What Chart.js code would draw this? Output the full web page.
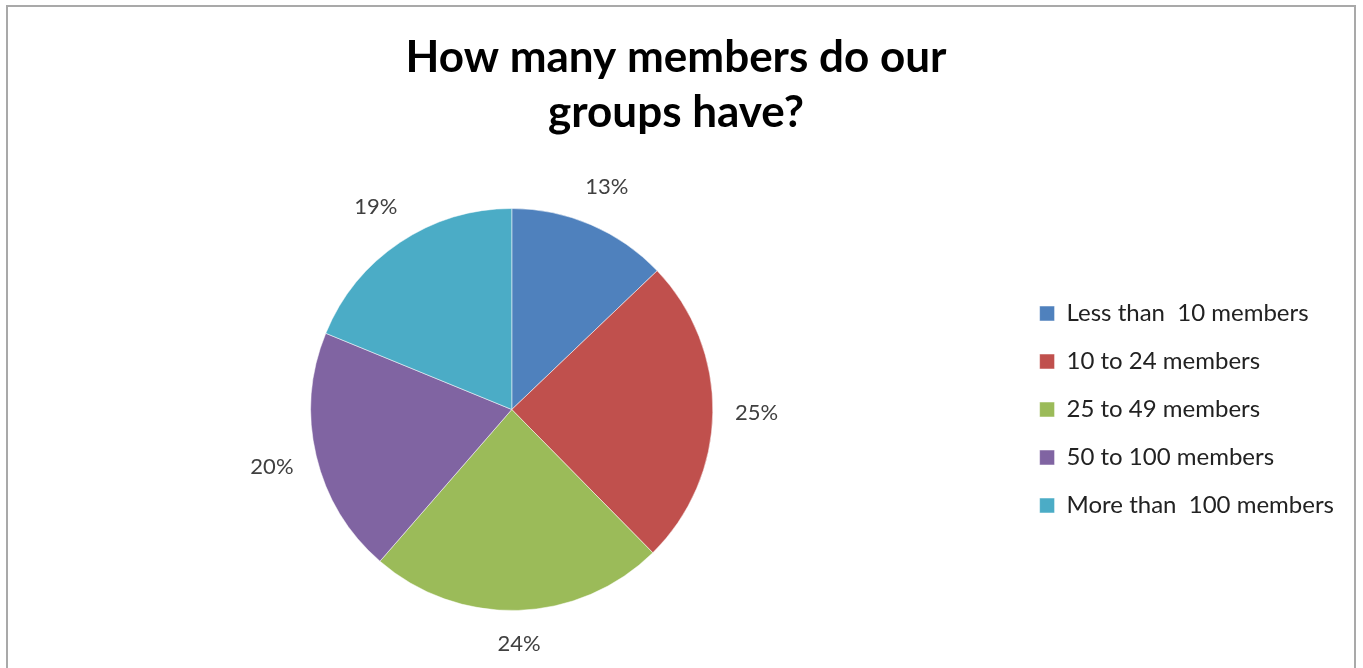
<!DOCTYPE html>
<html>
<head>
<meta charset="utf-8">
<script src="https://cdn.jsdelivr.net/npm/chart.js@4"></script>
<style>
  html, body { margin: 0; padding: 0; background: #fff; overflow: hidden; }
  .frame { position: absolute; left: 6px; top: 5px; width: 1346px; height: 700px;
    border: 2px solid #a9a9a9; border-bottom: none; background: #fff; }
  .frame canvas { position: absolute; left: 0; top: 0; }
</style>
</head>
<body>
<div class="frame"><canvas id="pie" width="1346" height="663"></canvas></div>
<script>
// ── DATA ───────────────────────────────────────────────────────────────────
const categories = ['Less than  10 members', '10 to 24 members', '25 to 49 members', '50 to 100 members', 'More than  100 members'];
const shares = [13, 25, 24, 20, 19];
const sliceColors = ['#4f81bd', '#c0504d', '#9bbb59', '#8064a2', '#4bacc6'];
const titleLines = ['How many members do our', 'groups have?'];

// labels outside each slice, like Excel "outside end" (box just clears the rim)
const outsideLabels = {
  id: 'outsideLabels',
  afterDatasetsDraw(chart) {
    const ctx = chart.ctx;
    const meta = chart.getDatasetMeta(0);
    const fs = 22;
    ctx.save();
    ctx.font = fs + 'px Lato, sans-serif';
    ctx.fillStyle = '#404040';
    ctx.textAlign = 'center';
    ctx.textBaseline = 'middle';
    meta.data.forEach((arc, i) => {
      const p = arc.getProps(['x', 'y', 'startAngle', 'endAngle', 'outerRadius'], true);
      const mid = (p.startAngle + p.endAngle) / 2;
      const txt = shares[i] + '%';
      const w = ctx.measureText(txt).width;
      const cx = Math.cos(mid), cy = Math.sin(mid);
      const r = p.outerRadius + Math.abs(cx) * w / 2 + Math.abs(cy) * fs / 2 + 22;
      ctx.fillText(txt, p.x + cx * r, p.y + cy * r);
    });
    ctx.restore();
  }
};

new Chart(document.getElementById('pie'), {
  type: 'pie',
  data: {
    labels: categories,
    datasets: [{ data: shares, backgroundColor: sliceColors,
      borderWidth: 1, borderColor: 'rgba(255,255,255,0.5)' }]
  },
  options: {
    responsive: false, animation: false,
    layout: { padding: { left: 0, right: 10, top: 0, bottom: 59 } },
    plugins: {
      title: { display: true, text: titleLines, color: '#000',
        font: { family: 'Lato, sans-serif', size: 44, weight: 'bold', lineHeight: 1.25 },
        padding: { top: 23, bottom: 68 } },
      legend: { position: 'right', fullSize: false,
        labels: { color: '#222', boxWidth: 15, boxHeight: 15, padding: 24,
          font: { family: 'Lato, sans-serif', size: 24 } } },
      tooltip: { enabled: false }
    }
  },
  plugins: [outsideLabels]
});
</script>
</body>
</html>
